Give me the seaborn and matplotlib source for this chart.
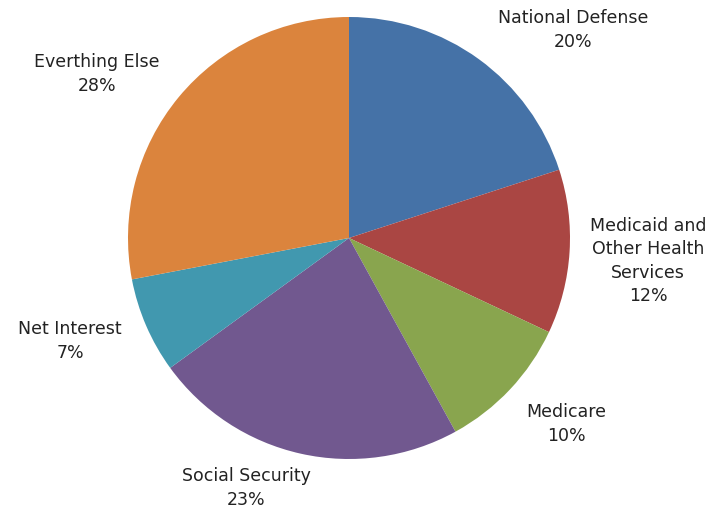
import matplotlib
matplotlib.use("Agg")
import matplotlib.pyplot as plt
import seaborn as sns

categories = ["National Defense", "Medicaid and\nOther Health\nServices", "Medicare",
              "Social Security", "Net Interest", "Everthing Else"]
values = [20, 12, 10, 23, 7, 28]
colors = ["#4572A7", "#AA4643", "#89A54E", "#71588F", "#4198AF", "#DB843D"]
# label centres in pixel coordinates (x, y from top)
label_pos = [(573, 30), (648, 261), (566, 424), (246, 488), (70, 341), (97, 74)]

sns.set_theme(style="white")
plt.rcParams['font.family'] = ['DejaVu Sans']

W, H = 714, 510
fig = plt.figure(figsize=(W / 100, H / 100), dpi=100)
ax = fig.add_axes([0, 0, 1, 1])

cx, cy, r = 349, H - 239, 221
ax.pie(values, colors=colors, startangle=90, counterclock=False,
       center=(cx, cy), radius=r, frame=True,
       wedgeprops=dict(linewidth=0, antialiased=True))
ax.set_xlim(0, W)
ax.set_ylim(0, H)
ax.set_aspect("equal")
ax.axis("off")

for cat, v, (px, py) in zip(categories, values, label_pos):
    ax.text(px, H - py, f"{cat}\n{v}%", ha="center", va="center",
            fontsize=12.5, color="#222222", linespacing=1.4)

fig.savefig("out.png", dpi=100)
